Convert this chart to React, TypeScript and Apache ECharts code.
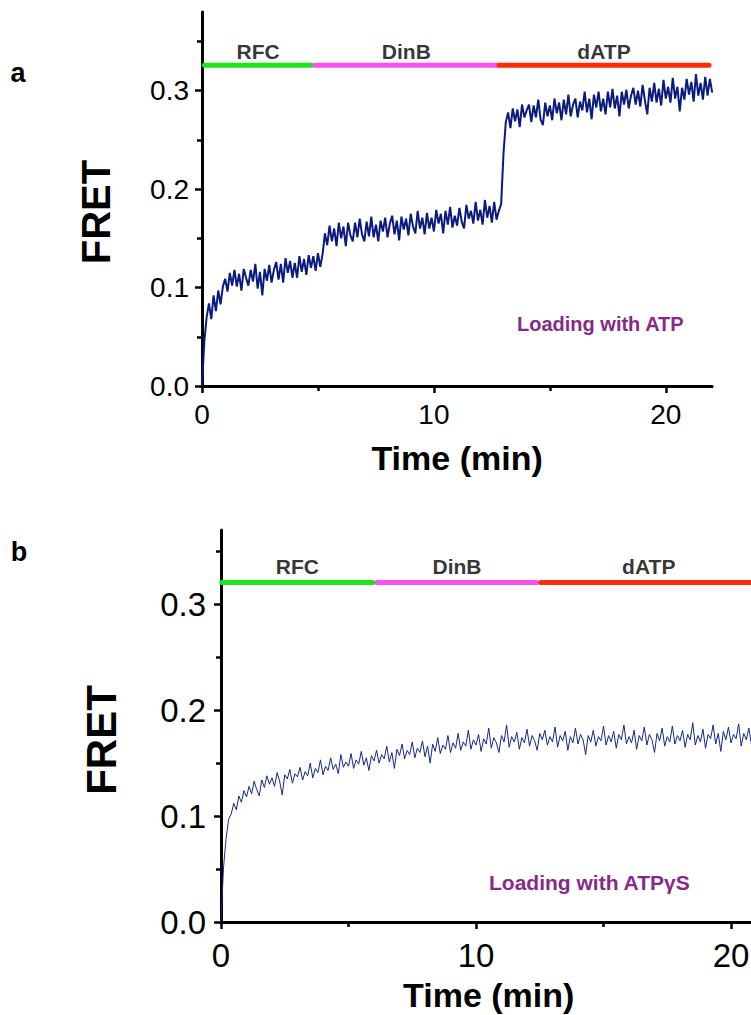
import React, { useEffect, useRef } from "react";
import * as echarts from "echarts";

// ---------- data ----------
const STEP_A = 0.1; // minutes between samples, panel a
const fretA = [
  0.000, 0.045, 0.070, 0.084, 0.068, 0.092, 0.076, 0.097, 0.083, 0.101,
  0.109, 0.096, 0.115, 0.102, 0.118, 0.101, 0.114, 0.097, 0.119, 0.110,
  0.102, 0.118, 0.106, 0.124, 0.099, 0.116, 0.092, 0.119, 0.107, 0.123,
  0.105, 0.118, 0.126, 0.108, 0.124, 0.105, 0.130, 0.115, 0.127, 0.110,
  0.125, 0.110, 0.132, 0.116, 0.129, 0.113, 0.133, 0.120, 0.132, 0.117,
  0.135, 0.121, 0.134, 0.155, 0.143, 0.163, 0.147, 0.160, 0.142, 0.166,
  0.150, 0.162, 0.142, 0.166, 0.153, 0.147, 0.166, 0.151, 0.170, 0.154,
  0.147, 0.167, 0.152, 0.172, 0.151, 0.164, 0.147, 0.168, 0.157, 0.171,
  0.151, 0.165, 0.173, 0.154, 0.168, 0.148, 0.172, 0.159, 0.170, 0.153,
  0.175, 0.162, 0.155, 0.178, 0.160, 0.171, 0.154, 0.176, 0.160, 0.171,
  0.157, 0.179, 0.165, 0.175, 0.155, 0.178, 0.164, 0.182, 0.161, 0.173,
  0.163, 0.181, 0.167, 0.160, 0.184, 0.170, 0.178, 0.165, 0.187, 0.168,
  0.179, 0.164, 0.189, 0.171, 0.183, 0.166, 0.187, 0.169, 0.178, 0.185,
  0.236, 0.268, 0.278, 0.262, 0.282, 0.269, 0.281, 0.263, 0.286, 0.273,
  0.280, 0.286, 0.268, 0.285, 0.273, 0.291, 0.271, 0.265, 0.288, 0.274,
  0.285, 0.270, 0.292, 0.277, 0.288, 0.270, 0.291, 0.276, 0.296, 0.274,
  0.286, 0.292, 0.273, 0.289, 0.280, 0.299, 0.278, 0.292, 0.271, 0.296,
  0.283, 0.299, 0.279, 0.292, 0.276, 0.299, 0.283, 0.302, 0.282, 0.295,
  0.274, 0.299, 0.286, 0.301, 0.282, 0.295, 0.303, 0.286, 0.300, 0.284,
  0.306, 0.290, 0.276, 0.303, 0.289, 0.308, 0.288, 0.302, 0.285, 0.311,
  0.292, 0.304, 0.288, 0.313, 0.292, 0.304, 0.279, 0.303, 0.291, 0.312,
  0.296, 0.309, 0.289, 0.317, 0.295, 0.308, 0.291, 0.314, 0.295, 0.312,
  0.298,
];

const STEP_B = 0.1; // minutes between samples, panel b
const fretB = [
  0.000, 0.052, 0.079, 0.097, 0.102, 0.112, 0.106, 0.119, 0.113, 0.124,
  0.118, 0.128, 0.121, 0.133, 0.125, 0.119, 0.134, 0.127, 0.138, 0.130,
  0.136, 0.128, 0.141, 0.133, 0.120, 0.139, 0.135, 0.144, 0.131, 0.140,
  0.137, 0.146, 0.134, 0.142, 0.138, 0.150, 0.136, 0.145, 0.141, 0.153,
  0.139, 0.147, 0.143, 0.155, 0.144, 0.149, 0.140, 0.158, 0.146, 0.151,
  0.147, 0.159, 0.145, 0.153, 0.149, 0.161, 0.148, 0.155, 0.143, 0.157,
  0.152, 0.162, 0.150, 0.158, 0.154, 0.166, 0.151, 0.160, 0.145, 0.163,
  0.157, 0.168, 0.154, 0.162, 0.158, 0.170, 0.155, 0.164, 0.160, 0.171,
  0.156, 0.166, 0.150, 0.168, 0.161, 0.174, 0.159, 0.167, 0.163, 0.176,
  0.160, 0.169, 0.164, 0.178, 0.162, 0.170, 0.166, 0.181, 0.163, 0.172,
  0.167, 0.177, 0.161, 0.173, 0.168, 0.183, 0.164, 0.174, 0.169, 0.160,
  0.176, 0.170, 0.186, 0.165, 0.175, 0.170, 0.179, 0.163, 0.174, 0.169,
  0.182, 0.166, 0.176, 0.171, 0.162, 0.178, 0.172, 0.181, 0.167, 0.175,
  0.170, 0.184, 0.165, 0.176, 0.171, 0.180, 0.162, 0.175, 0.169, 0.183,
  0.168, 0.177, 0.172, 0.158, 0.176, 0.170, 0.181, 0.166, 0.175, 0.171,
  0.185, 0.167, 0.176, 0.170, 0.180, 0.164, 0.177, 0.172, 0.186, 0.168,
  0.175, 0.169, 0.181, 0.163, 0.176, 0.171, 0.184, 0.167, 0.177, 0.172,
  0.160, 0.178, 0.171, 0.183, 0.166, 0.175, 0.170, 0.185, 0.168, 0.176,
  0.171, 0.181, 0.165, 0.177, 0.172, 0.188, 0.167, 0.176, 0.170, 0.182,
  0.164, 0.177, 0.173, 0.186, 0.168, 0.178, 0.161, 0.180, 0.172, 0.184,
  0.169, 0.177, 0.173, 0.187, 0.166, 0.178, 0.172, 0.183, 0.168, 0.176,
  0.174,
];

const phaseNames = ["RFC", "DinB", "dATP"];
const phaseColors = ["#1fe31f", "#f552ee", "#ff2a0a"];
const phaseStartA = [0.1, 4.87, 12.81];
const phaseEndA = [4.74, 12.75, 21.86];
const phaseLevelA = 0.326;
const phaseStartB = [0.03, 6.12, 12.55];
const phaseEndB = [5.96, 12.39, 21];
const phaseLevelB = 0.3205;

const yTicks = [0, 0.1, 0.2, 0.3];
const yMinorTicks = [0.05, 0.15, 0.25, 0.35];
const xTicks = [0, 10, 20];
const xMinorTicks = [5, 15];

const xMaxA = 22;
const yMaxA = 0.38;
const xMaxB = 21;
const yMaxB = 0.37;

const xTitle = "Time (min)";
const yTitle = "FRET";
const noteA = "Loading with ATP";
const noteB = "Loading with ATP\u03b3S";

// ---------- styling ----------
const FONT = '"Liberation Sans", Arial, Helvetica, sans-serif';
const LINE_COLOR = "#0b1a7d";

function xAxes(grid: number, xmax: number, labelSize: number, labelMargin: number, nameSize: number, nameGap: number) {
  return [
    {
      type: "value",
      gridIndex: grid,
      min: 0,
      max: xmax,
      position: "bottom",
      axisLine: { show: true, onZero: false, lineStyle: { color: "#000", width: 3 } },
      axisTick: { show: true, customValues: xTicks, length: 7, lineStyle: { color: "#000", width: 2.5 } },
      axisLabel: {
        show: true,
        customValues: xTicks,
        margin: labelMargin,
        fontSize: labelSize,
        color: "#000",
        fontFamily: FONT,
        formatter: (v: number) => String(Math.round(v)),
      },
      splitLine: { show: false },
      name: xTitle,
      nameLocation: "middle",
      nameGap,
      nameTextStyle: { fontSize: nameSize, fontWeight: "bold", color: "#000", fontFamily: FONT },
    },
    {
      type: "value",
      gridIndex: grid,
      min: 0,
      max: xmax,
      position: "bottom",
      axisLine: { show: false, onZero: false },
      axisTick: { show: true, customValues: xMinorTicks, length: 5, lineStyle: { color: "#000", width: 2.5 } },
      axisLabel: { show: false },
      splitLine: { show: false },
    },
  ];
}

function yAxes(grid: number, ymax: number, labelSize: number, labelMargin: number, nameSize: number, nameGap: number, shiftDown: number) {
  return [
    {
      type: "value",
      gridIndex: grid,
      min: 0,
      max: ymax,
      position: "left",
      axisLine: { show: true, onZero: false, lineStyle: { color: "#000", width: 3 } },
      axisTick: { show: true, customValues: yTicks, length: 7, lineStyle: { color: "#000", width: 2.5 } },
      axisLabel: {
        show: true,
        customValues: yTicks,
        margin: labelMargin,
        fontSize: labelSize,
        color: "#000",
        fontFamily: FONT,
        formatter: (v: number) => v.toFixed(1),
      },
      splitLine: { show: false },
      name: yTitle,
      nameLocation: "middle",
      nameRotate: 90,
      nameGap,
      nameTextStyle: {
        fontSize: nameSize,
        fontWeight: "bold",
        color: "#000",
        fontFamily: FONT,
        padding: [0, shiftDown * 2, 0, 0],
      },
    },
    {
      type: "value",
      gridIndex: grid,
      min: 0,
      max: ymax,
      position: "left",
      axisLine: { show: false, onZero: false },
      axisTick: { show: true, customValues: yMinorTicks, length: 5, lineStyle: { color: "#000", width: 2.5 } },
      axisLabel: { show: false },
      splitLine: { show: false },
    },
  ];
}

function phaseSeries(xi: number, yi: number, starts: number[], ends: number[], level: number, labelDistance: number) {
  const lines = phaseNames.map((n, i) => ({
    type: "line",
    name: n,
    xAxisIndex: xi,
    yAxisIndex: yi,
    data: [
      [starts[i], level],
      [ends[i], level],
    ],
    symbol: "none",
    lineStyle: { color: phaseColors[i], width: 5, cap: "round" },
    z: 4,
    silent: true,
  }));
  const labels = {
    type: "scatter",
    xAxisIndex: xi,
    yAxisIndex: yi,
    data: phaseNames.map((n, i) => ({ name: n, value: [(starts[i] + ends[i]) / 2, level] })),
    symbolSize: 1,
    itemStyle: { color: "rgba(0,0,0,0)" },
    label: {
      show: true,
      position: "top",
      distance: labelDistance,
      formatter: "{b}",
      fontSize: 21,
      fontWeight: "bold",
      color: "#000",
      fontFamily: FONT,
    },
    z: 5,
    silent: true,
  };
  return [...lines, labels];
}

export default function App() {
  const ref = useRef<HTMLDivElement>(null);

  useEffect(() => {
    if (!ref.current) return;
    const chart = echarts.init(ref.current, null, { renderer: "svg" });

    const option: any = {
      animation: false,
      backgroundColor: "#ffffff",
      textStyle: { fontFamily: FONT },
      grid: [
        { left: 202, top: 12, width: 510.2, height: 374, outerBoundsMode: "none", containLabel: false },
        { left: 221, top: 530, width: 535.5, height: 392, outerBoundsMode: "none", containLabel: false },
      ],
      xAxis: [...xAxes(0, xMaxA, 28, 14, 34, 55), ...xAxes(1, xMaxB, 33, 17, 34, 56)],
      yAxis: [...yAxes(0, yMaxA, 28, 13, 40, 86, 13), ...yAxes(1, yMaxB, 33, 15, 42, 99, 14)],
      series: [
        {
          type: "line",
          name: "FRET a",
          xAxisIndex: 0,
          yAxisIndex: 0,
          data: fretA.map((v, i) => [i * STEP_A, v]),
          symbol: "none",
          lineStyle: { color: LINE_COLOR, width: 2 },
          z: 3,
          silent: true,
        },
        ...phaseSeries(0, 0, phaseStartA, phaseEndA, phaseLevelA, 3),
        {
          type: "line",
          name: "FRET b",
          xAxisIndex: 2,
          yAxisIndex: 2,
          data: fretB.map((v, i) => [i * STEP_B, v]),
          symbol: "none",
          lineStyle: { color: "#18288a", width: 1 },
          z: 3,
          silent: true,
        },
        ...phaseSeries(2, 2, phaseStartB, phaseEndB, phaseLevelB, 5),
      ],
      graphic: [
        {
          type: "text",
          x: 18,
          y: 73,
          style: { text: "a", font: `bold 27px ${FONT}`, fill: "#000", align: "center", verticalAlign: "middle" },
        },
        {
          type: "text",
          x: 19,
          y: 552,
          style: { text: "b", font: `bold 27px ${FONT}`, fill: "#000", align: "center", verticalAlign: "middle" },
        },
        {
          type: "text",
          x: 517,
          y: 324,
          style: { text: noteA, font: `bold 20px ${FONT}`, fill: "#872a87", align: "left", verticalAlign: "middle" },
        },
        {
          type: "text",
          x: 489,
          y: 882,
          style: { text: noteB, font: `bold 21px ${FONT}`, fill: "#872a87", align: "left", verticalAlign: "middle" },
        },
      ],
    };

    chart.setOption(option);
    return () => chart.dispose();
  }, []);

  return (
    <div
      ref={ref}
      style={{ position: "absolute", left: 0, top: 0, width: 751, height: 1015, background: "#fff" }}
    />
  );
}
